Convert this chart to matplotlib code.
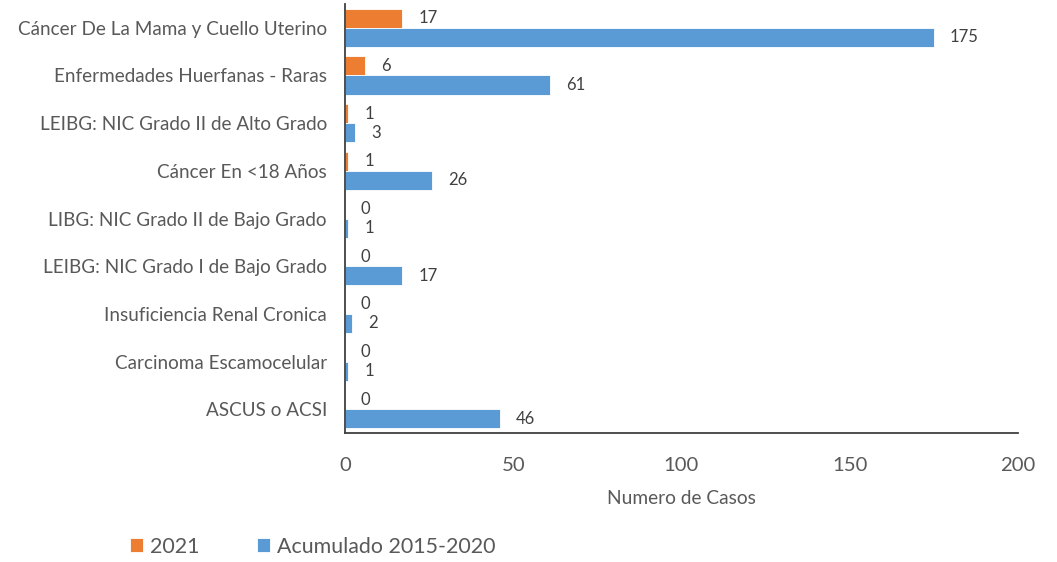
import matplotlib
matplotlib.use("Agg")
import matplotlib.pyplot as plt
import numpy as np

plt.rcParams['font.family'] = ['Lato', 'DejaVu Sans']

categorias = ['Cáncer De La Mama y Cuello Uterino',
              'Enfermedades Huerfanas - Raras',
              'LEIBG: NIC Grado II de Alto Grado',
              'Cáncer En <18 Años',
              'LIBG: NIC Grado II de Bajo Grado',
              'LEIBG: NIC Grado I de Bajo Grado',
              'Insuficiencia Renal Cronica',
              'Carcinoma Escamocelular',
              'ASCUS o ACSI']
casos_2021 = [17, 6, 1, 1, 0, 0, 0, 0, 0]
acumulado = [175, 61, 3, 26, 1, 17, 2, 1, 46]
xticks = [0, 50, 100, 150, 200]

naranja = '#ED7D31'
azul = '#5B9BD5'
gris = '#595959'

fig = plt.figure(figsize=(10.57, 5.62), dpi=100)
ax = fig.add_axes([0.3264, 0.2295, 0.6366, 0.7634])

y = np.arange(len(categorias))
h = 0.4
b1 = ax.barh(y - h / 2, casos_2021, h, color=naranja, edgecolor='white', linewidth=0.6, label='2021')
b2 = ax.barh(y + h / 2, acumulado, h, color=azul, edgecolor='white', linewidth=0.6, label='Acumulado 2015-2020')

# etiqueta con el valor al final de cada barra
for rects in (b1, b2):
    for r in rects:
        w = r.get_width()
        ax.annotate('{}'.format(int(w)),
                    xy=(w, r.get_y() + r.get_height() / 2),
                    xytext=(11.5, 0), textcoords='offset points',
                    ha='left', va='center', fontsize=12, color='#404040')

ax.set_ylim(len(categorias) - 0.5, -0.5)
ax.set_xlim(0, 200)
ax.set_yticks(y)
ax.set_yticklabels(categorias, fontsize=13.6, color=gris)
ax.set_xticks(xticks)
ax.set_xticklabels([str(t) for t in xticks], fontsize=14.6, color=gris)
ax.tick_params(axis='x', length=0, pad=17.5)
ax.tick_params(axis='y', length=0, pad=13)
for s in ('top', 'right'):
    ax.spines[s].set_visible(False)
for s in ('left', 'bottom'):
    ax.spines[s].set_color('#404040')
    ax.spines[s].set_linewidth(1.3)

ax.set_xlabel('Numero de Casos', fontsize=13.8, color=gris, labelpad=11)

fig.legend(handles=[b1, b2], loc='center left', bbox_to_anchor=(0.123, 0.027), ncol=2,
           frameon=False, fontsize=15.4, handlelength=0.6, handleheight=0.65,
           handletextpad=0.33, columnspacing=2.7, borderaxespad=0, borderpad=0,
           labelcolor=gris)

plt.savefig('out.png', dpi=100)
